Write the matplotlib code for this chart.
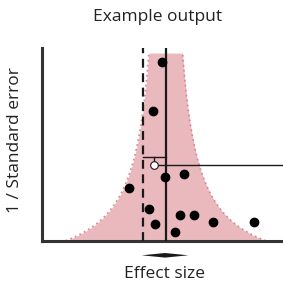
import numpy as np
import matplotlib
matplotlib.use("Agg")
import matplotlib.pyplot as plt
from matplotlib.patches import Polygon

plt.rcParams['font.family'] = ['Open Sans', 'DejaVu Sans']

# study effect sizes and precision (1 / standard error)
effect = [0.38, 0.206, 0.826, 0.44, -0.274, 0.114, 0.746, 1.02, 0.246, 1.406, 2.226, 0.646]
precision = [5.57, 4.31, 2.70, 2.62, 2.34, 1.79, 1.65, 1.65, 1.40, 1.47, 1.47, 1.20]

pooled = 0.454      # solid line
null_effect = 0.0   # dashed line
adjusted = 0.226    # open circle
adjusted_prec = 2.92
bracket_prec = 3.14

fig = plt.figure(figsize=(2.83, 2.86), dpi=100)
ax = fig.add_axes([42 / 283, 1 - 240.7 / 286, 1 - 42 / 283, (240.7 - 48) / 286])

# funnel
p = np.linspace(0.98, 5.81, 200)
lo = pooled - 1.96 / p
hi = pooled + 1.96 / p
ax.fill_betweenx(p, lo, hi, color='#e9b9be', lw=0, zorder=1)
ax.plot(lo, p, color='#d9828e', lw=1.2, ls=(0, (1, 2)), zorder=2)
ax.plot(hi, p, color='#d9828e', lw=1.2, ls=(0, (1, 2)), zorder=2)

ax.axvline(pooled, color='#1a1a1a', lw=1.6, zorder=3)
ax.axvline(null_effect, color='#1a1a1a', lw=1.6, ls=(0, (4, 2.5)), zorder=3)

# bracket and adjusted estimate
ax.plot([null_effect, pooled], [bracket_prec, bracket_prec], color='#1a1a1a', lw=1, zorder=4)
ax.plot([adjusted, adjusted], [bracket_prec, adjusted_prec], color='#1a1a1a', lw=1, zorder=4)
ax.plot([adjusted, 2.8], [adjusted_prec, adjusted_prec], color='#1a1a1a', lw=1, zorder=4)
ax.plot(adjusted, adjusted_prec, 'o', ms=5.5, mfc='white', mec='#1a1a1a', mew=0.8, zorder=5)

ax.plot(effect, precision, 'o', ms=6, color='black', zorder=6)

ax.set_xlim(-2.02, 2.8)
ax.set_ylim(0.98, 5.94)
ax.set_xticks([])
ax.set_yticks([])
for s in ['top', 'right']:
    ax.spines[s].set_visible(False)
for s in ['left', 'bottom']:
    ax.spines[s].set_linewidth(2.2)
    ax.spines[s].set_color('#333333')

fig.text(157.5 / 283, 1 - 17 / 286, 'Example output', ha='center', va='center', fontsize=12.5, color='#222222')
fig.text(15 / 283, 1 - 140 / 286, '1 / Standard error', ha='center', va='center', rotation=90, fontsize=12.5, color='#222222')
fig.text(165 / 283, 1 - 274 / 286, 'Effect size', ha='center', va='center', fontsize=12.5, color='#222222')

# double arrow under the axis
pts = [(141.7, 255.3), (165, 253.0), (188.3, 255.3), (165, 257.6)]
arrow = Polygon([(x / 283, 1 - y / 286) for x, y in pts], closed=True,
                transform=fig.transFigure, color='#1a1a1a', lw=0)
fig.patches.append(arrow)

fig.savefig('out.png', dpi=100)
